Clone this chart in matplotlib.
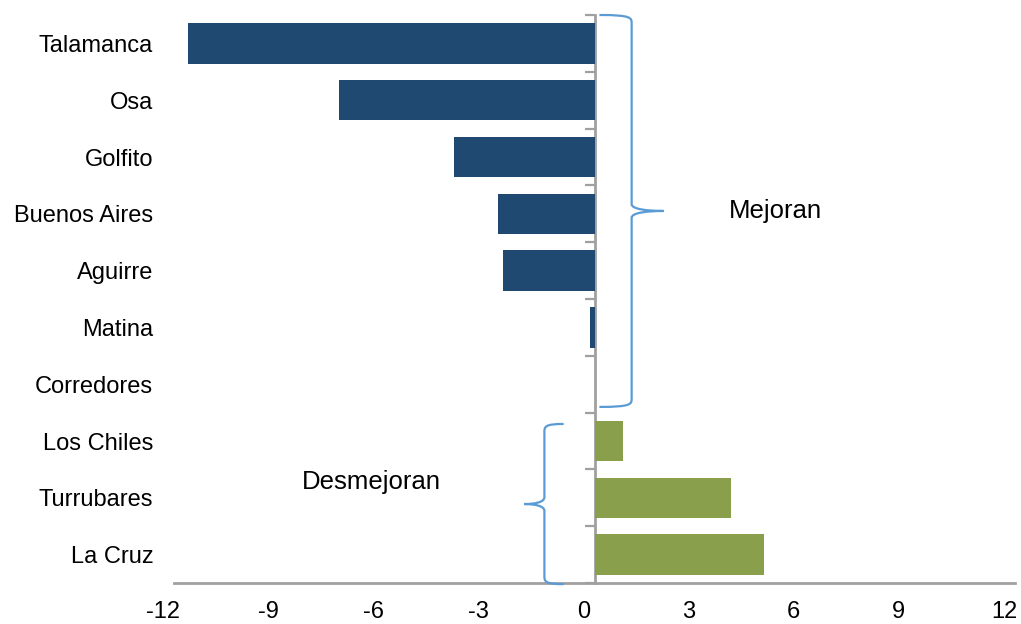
import matplotlib.pyplot as plt
from matplotlib.path import Path
from matplotlib.patches import PathPatch
from matplotlib.transforms import ScaledTranslation

plt.rcParams['font.family'] = ['Liberation Sans', 'DejaVu Sans']
plt.rcParams['axes.unicode_minus'] = False

# cantones y cambio en el indicador
cantones = ["Talamanca", "Osa", "Golfito", "Buenos Aires", "Aguirre",
            "Matina", "Corredores", "Los Chiles", "Turrubares", "La Cruz"]
cambio = [-11.6, -7.3, -4.0, -2.75, -2.6, -0.13, 0.0, 0.8, 3.9, 4.85]

azul = "#1F4970"
verde = "#8A9F4C"
gris = "#A0A0A0"
llave = "#5B9BD5"


def draw_brace(ax, x_edge, x_spine, x_tip, y_top, y_bot):
    ym = (y_top + y_bot) / 2
    verts = [
        (x_edge, y_top),
        (x_spine, y_top), (x_spine, y_top + 0.05), (x_spine, y_top + 0.15),
        (x_spine, ym - 0.12),
        (x_spine, ym - 0.03), (x_tip - (x_tip - x_spine) * 0.5, ym), (x_tip, ym),
        (x_tip - (x_tip - x_spine) * 0.5, ym), (x_spine, ym + 0.03), (x_spine, ym + 0.12),
        (x_spine, y_bot - 0.15),
        (x_spine, y_bot - 0.05), (x_spine, y_bot), (x_edge, y_bot),
    ]
    codes = [Path.MOVETO,
             Path.CURVE4, Path.CURVE4, Path.CURVE4,
             Path.LINETO,
             Path.CURVE4, Path.CURVE4, Path.CURVE4,
             Path.CURVE4, Path.CURVE4, Path.CURVE4,
             Path.LINETO,
             Path.CURVE4, Path.CURVE4, Path.CURVE4]
    ax.add_patch(PathPatch(Path(verts, codes), fill=False, edgecolor=llave,
                           lw=1.6, clip_on=False, zorder=4))


fig = plt.figure(figsize=(10.21, 6.24), dpi=100)
ax = fig.add_axes([174 / 1021, 41 / 624, 841 / 1021, 568 / 624])

pos = list(range(len(cantones)))
colores = [azul if v < 0 else verde for v in cambio]
ax.barh(pos, cambio, height=0.71, color=colores, zorder=2)

ax.set_xlim(-12, 12)
ax.set_ylim(len(cantones) - 0.5, -0.5)
ax.set_xticks(range(-12, 13, 3))
ax.tick_params(axis='x', length=0, pad=13, labelsize=17)
for lbl in ax.get_xticklabels():
    lbl.set_transform(lbl.get_transform() + ScaledTranslation(-0.11, 0, fig.dpi_scale_trans))

ax.set_yticks(pos, cantones)
ax.tick_params(axis='y', length=0, pad=15, labelsize=17)

for s in ["top", "right", "left"]:
    ax.spines[s].set_visible(False)
ax.spines["bottom"].set_color(gris)
ax.spines["bottom"].set_linewidth(2)

# eje vertical en cero con marcas entre categorías
eje0 = ax.secondary_yaxis(0.5)
eje0.set_yticks([p - 0.5 for p in pos] + [len(cantones) - 0.5], [""] * (len(cantones) + 1))
eje0.tick_params(axis='y', length=7, width=1.6, color=gris, direction='in')
for sp in eje0.spines.values():
    sp.set_color(gris)
    sp.set_linewidth(2)
    sp.set_zorder(3)

draw_brace(ax, 0.14, 1.06, 1.97, -0.5, 6.4)
draw_brace(ax, -0.88, -1.43, -2.0, 6.7, 9.52)

ax.text(5.17, 2.95, "Mejoran", fontsize=18.5, ha="center", va="center")
ax.text(-6.36, 7.72, "Desmejoran", fontsize=18.5, ha="center", va="center")

fig.savefig("out.png", dpi=100)
